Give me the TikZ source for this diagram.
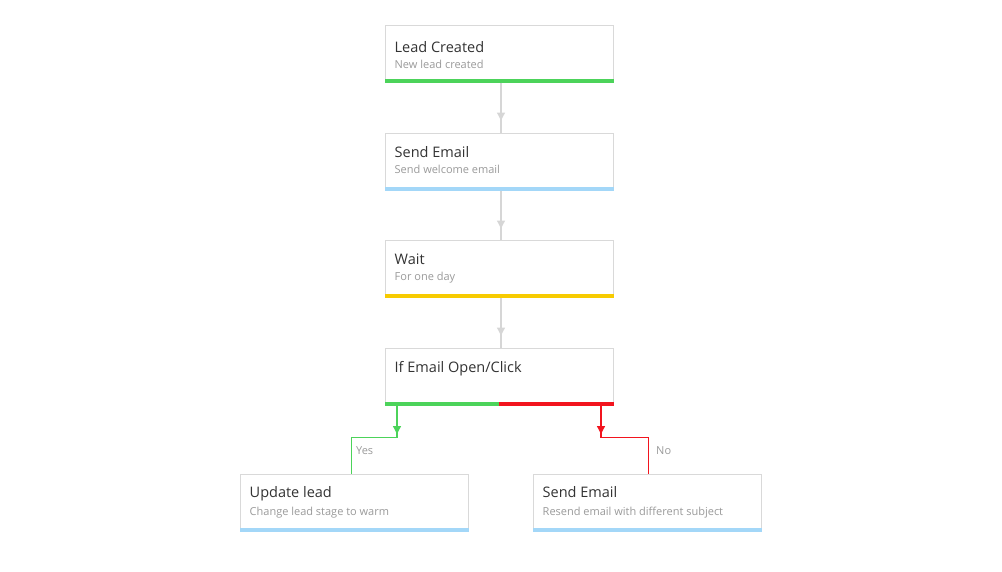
\documentclass[tikz,border=0pt]{standalone}
\usepackage{fontspec}
\setmainfont{Open Sans}
\usetikzlibrary{arrows.meta,decorations.markings}
\definecolor{bordergray}{HTML}{D9D9D9}
\definecolor{linegray}{HTML}{D6D6D6}
\definecolor{titlecol}{HTML}{333333}
\definecolor{subcol}{HTML}{9A9A9A}
\definecolor{bargreen}{HTML}{4CD35A}
\definecolor{barblue}{HTML}{A3D7F8}
\definecolor{baryellow}{HTML}{F7CB00}
\definecolor{barred}{HTML}{F2141E}
\tikzset{
  box/.style={draw=bordergray, line width=1pt, fill=white, minimum width=228pt, minimum height=57pt, inner sep=0pt},
  ttl/.style={anchor=base west, inner sep=0pt, text=titlecol, font=\fontsize{14.5}{16}\selectfont},
  sub/.style={anchor=base west, inner sep=0pt, text=subcol, font=\fontsize{11}{13}\selectfont},
  lbl/.style={anchor=west, inner sep=0pt, text=subcol, font=\fontsize{11}{13}\selectfont},
  midarrow/.style 2 args={decoration={markings, mark=at position #1 with {\arrow{Triangle[length=8pt,width=8pt]}}}, postaction={decorate}, draw=#2, line width=1.3pt},
}
\begin{document}
\begin{tikzpicture}[x=1pt,y=-1pt]
\useasboundingbox (0,0) rectangle (1002,571);
% boxes
\node[box] (n1) at (499,53.5) {};
\node[box] (n2) at (499,161.5) {};
\node[box] (n3) at (499,268.5) {};
\node[box] (n4) at (499,376.5) {};
\node[box] (n5) at (354,502.5) {};
\node[box] (n6) at (647,502.5) {};
% bars
\fill[bargreen] ([yshift=-0.5pt]n1.south west) rectangle ([yshift=4pt]n1.south east);
\fill[barblue] ([yshift=-0.5pt]n2.south west) rectangle ([yshift=4pt]n2.south east);
\fill[baryellow] ([yshift=-0.5pt]n3.south west) rectangle ([yshift=4pt]n3.south east);
\fill[bargreen] ([yshift=-0.5pt]n4.south west) rectangle ([yshift=4pt]n4.south);
\fill[barred] ([yshift=4pt]n4.south) rectangle ([yshift=-0.5pt]n4.south east);
\fill[barblue] ([yshift=-0.5pt]n5.south west) rectangle ([yshift=4pt]n5.south east);
\fill[barblue] ([yshift=-0.5pt]n6.south west) rectangle ([yshift=4pt]n6.south east);
% texts
\node[ttl] (t1) at ([xshift=10pt,yshift=29.7pt]n1.south west) {Lead Created};
\node[sub] (s1) at ([xshift=10pt,yshift=13.7pt]n1.south west) {New lead created};
\node[ttl] (t2) at ([xshift=10pt,yshift=32.7pt]n2.south west) {Send Email};
\node[sub] (s2) at ([xshift=10pt,yshift=16.7pt]n2.south west) {Send welcome email};
\node[ttl] (t3) at ([xshift=10pt,yshift=32.7pt]n3.south west) {Wait};
\node[sub] (s3) at ([xshift=10pt,yshift=16.7pt]n3.south west) {For one day};
\node[ttl] (t4) at ([xshift=10pt,yshift=32.7pt]n4.south west) {If Email Open/Click};
\node[ttl] (t5) at ([xshift=10pt,yshift=34.3pt]n5.south west) {Update lead};
\node[sub] (s5) at ([xshift=10pt,yshift=16.5pt]n5.south west) {Change lead stage to warm};
\node[ttl] (t6) at ([xshift=10pt,yshift=34.3pt]n6.south west) {Send Email};
\node[sub] (s6) at ([xshift=10pt,yshift=16.5pt]n6.south west) {Resend email with different subject};
% connectors
\draw[midarrow={38pt}{linegray}] ([xshift=2pt]n1.south) -- ([xshift=2pt]n1.south |- n2.north);
\draw[midarrow={38pt}{linegray}] ([xshift=2pt]n2.south) -- ([xshift=2pt]n2.south |- n3.north);
\draw[midarrow={38pt}{linegray}] ([xshift=2pt]n3.south) -- ([xshift=2pt]n3.south |- n4.north);
\coordinate (gy) at (397,405);
\coordinate (ry) at (601,405);
\coordinate (gx) at (351.5,437.5);
\coordinate (rx) at (648.5,437.5);
\draw[midarrow={29pt}{bargreen}] (gy) -- (gy |- gx) -- (gx) -- (gx |- n5.north);
\draw[midarrow={29pt}{barred}] (ry) -- (ry |- rx) -- (rx) -- (rx |- n6.north);
\node[lbl] (yes) at (356,451) {Yes};
\node[lbl] (no) at (656,451) {No};
\end{tikzpicture}
\end{document}
